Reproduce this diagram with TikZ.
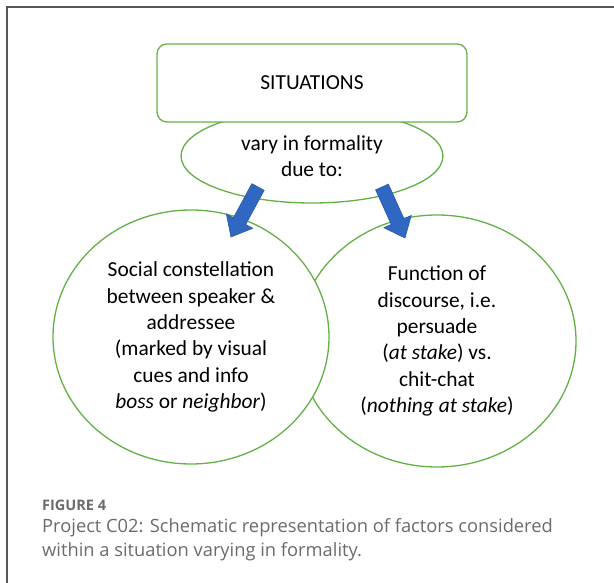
\documentclass[tikz,border=0pt]{standalone}
\usepackage{fontspec}
\setmainfont{Carlito}
\newfontfamily\capfont{Open Sans}
\usetikzlibrary{calc,shapes.geometric}
\definecolor{boxgreen}{HTML}{63B145}
\definecolor{arrowblue}{HTML}{2F67C2}
\definecolor{arrowedge}{HTML}{2A589F}
\definecolor{framegray}{HTML}{555555}
\definecolor{captiongray}{HTML}{6B6B6B}
\begin{document}
\begin{tikzpicture}[x=1pt,y=1pt,
  shapeline/.style={draw=boxgreen, line width=1.3pt, fill=white, inner sep=0pt},
  bodytext/.style={font=\fontsize{21.4}{26.3}\selectfont, align=center, text=black},
  blockarrow/.style={fill=arrowblue, draw=arrowedge, line width=0.6pt, line join=miter},
  captext/.style={anchor=base west, inner sep=0pt, text=captiongray}]
\useasboundingbox (0,0) rectangle (614,583);
\fill[white] (0,0) rectangle (614,583);
% page frame (left and top edges)
\draw[framegray, line width=1.5pt] (7,0) -- (7,576) -- (614,576);

% the two factor circles (left one lies on top)
\node[shapeline, ellipse, minimum width=278, minimum height=252, bodytext] (fn) at (437,242)
  {Function of\\discourse, i.e.\\persuade\\(\textit{at stake}) vs.\\chit-chat\\(\textit{nothing at stake})};
\node[shapeline, ellipse, minimum width=276, minimum height=254, bodytext] (soc) at (191,246)
  {Social constellation\\between speaker \&\\addressee\\(marked by visual\\cues and info\\\textit{boss} or \textit{neighbor})};

% middle ellipse and the top box
\node[shapeline, ellipse, minimum width=262, minimum height=94, bodytext] (vary) at (312,427)
  {vary in formality\\due to:};
\node[shapeline, rounded corners=10pt, minimum width=310, minimum height=78, bodytext] (sit) at (312,500)
  {SITUATIONS};

% block arrows: tail and tip of each
\coordinate (lt) at (258,396);
\coordinate (lh) at (231,346);
\coordinate (rt) at (382,396);
\coordinate (rh) at (405,345);
\foreach \t/\h in {lt/lh, rt/rh}{
  \coordinate (hb) at ($(\h)!18pt!(\t)$);
  \draw[blockarrow]
    ($(\t)!7pt!90:(\h)$) -- ($(hb)!7pt!90:(\h)$) -- ($(hb)!15pt!90:(\h)$) -- (\h)
    -- ($(hb)!15pt!-90:(\h)$) -- ($(hb)!7pt!-90:(\h)$) -- ($(\t)!7pt!-90:(\h)$) -- cycle;
}

% caption
\node[captext, font=\capfont\bfseries\fontsize{14.5}{18}\selectfont] (fig) at (42,72) {FIGURE 4};
\node[captext, font=\capfont\fontsize{18.3}{24}\selectfont] (cap1) at (42,50)
  {Project C02: Schematic representation of factors considered};
\node[captext, font=\capfont\fontsize{18.3}{24}\selectfont] (cap2) at (42,26)
  {within a situation varying in formality.};
\end{tikzpicture}
\end{document}
